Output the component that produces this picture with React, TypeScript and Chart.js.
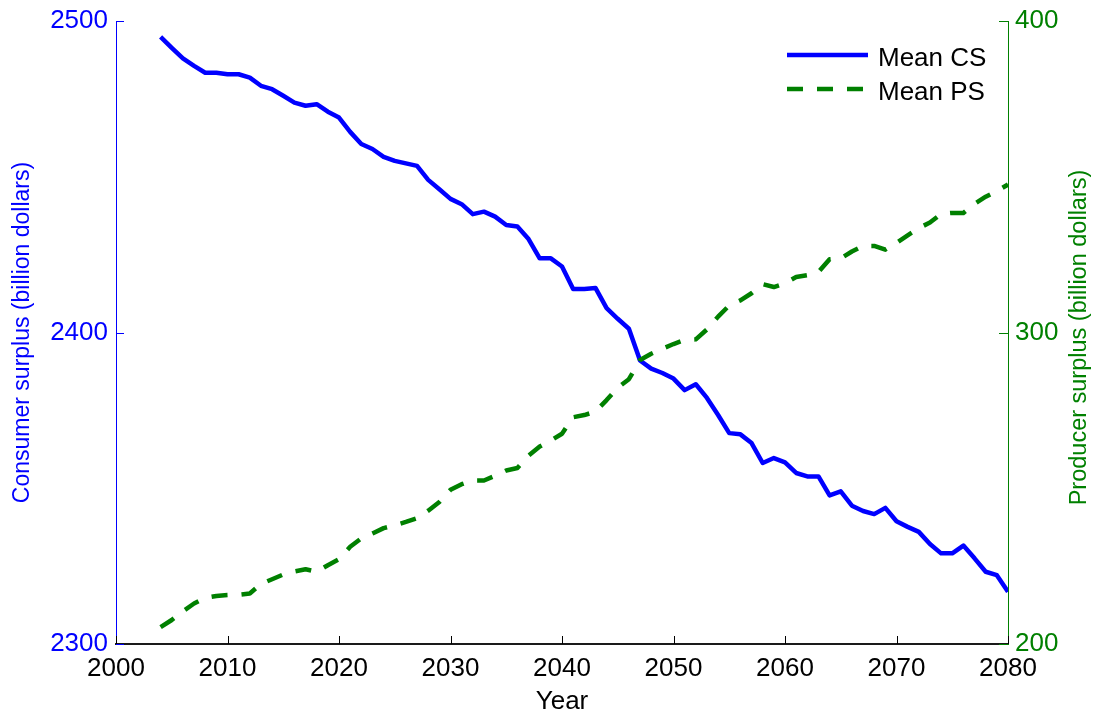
import React, { useEffect, useRef } from "react";
import { Chart, registerables } from "chart.js";

Chart.register(...registerables);

// Simulation years (annual steps)
const YEARS = [
  2004, 2005, 2006, 2007, 2008, 2009, 2010, 2011, 2012, 2013, 2014, 2015, 2016,
  2017, 2018, 2019, 2020, 2021, 2022, 2023, 2024, 2025, 2026, 2027, 2028, 2029,
  2030, 2031, 2032, 2033, 2034, 2035, 2036, 2037, 2038, 2039, 2040, 2041, 2042,
  2043, 2044, 2045, 2046, 2047, 2048, 2049, 2050, 2051, 2052, 2053, 2054, 2055,
  2056, 2057, 2058, 2059, 2060, 2061, 2062, 2063, 2064, 2065, 2066, 2067, 2068,
  2069, 2070, 2071, 2072, 2073, 2074, 2075, 2076, 2077, 2078, 2079, 2080,
];

// Mean consumer surplus (billion dollars)
const MEAN_CS = [
  2494.9, 2491.4, 2488.0, 2485.6, 2483.4, 2483.4, 2482.9, 2482.9, 2481.8, 2479.2,
  2478.1, 2476.0, 2473.8, 2472.8, 2473.3, 2470.9, 2469.0, 2464.4, 2460.5, 2458.9,
  2456.4, 2455.1, 2454.3, 2453.5, 2449.0, 2446.0, 2442.9, 2441.2, 2438.0, 2438.8,
  2437.2, 2434.5, 2434.0, 2430.0, 2423.8, 2423.8, 2421.2, 2414.0, 2414.0, 2414.3,
  2407.8, 2404.4, 2401.2, 2391.0, 2388.4, 2387.0, 2385.2, 2381.5, 2383.4, 2379.0,
  2373.5, 2367.7, 2367.3, 2364.5, 2358.1, 2359.7, 2358.3, 2354.9, 2353.8, 2353.8,
  2347.7, 2349.0, 2344.4, 2342.7, 2341.7, 2343.7, 2339.4, 2337.6, 2336.0, 2332.1,
  2329.1, 2329.1, 2331.6, 2327.5, 2323.2, 2322.1, 2316.8,
];

// Mean producer surplus (billion dollars)
const MEAN_PS = [
  205.4, 207.7, 210.5, 213.0, 214.8, 215.4, 215.7, 215.8, 216.2, 219.3,
  220.8, 222.3, 223.3, 224.0, 223.2, 225.3, 227.2, 231.2, 233.9, 235.5,
  237.2, 238.1, 239.2, 240.4, 242.8, 245.6, 249.5, 251.3, 252.5, 252.5,
  254.0, 255.7, 256.5, 260.5, 263.4, 265.3, 267.5, 272.8, 273.5, 274.6,
  278.3, 282.3, 285.0, 291.2, 293.2, 294.8, 296.3, 297.6, 297.8, 301.0,
  305.1, 308.7, 310.3, 312.6, 315.5, 314.6, 315.8, 317.8, 318.4, 319.4,
  323.5, 323.8, 326.0, 327.8, 327.8, 326.6, 328.8, 331.2, 333.5, 335.3,
  338.1, 338.4, 338.4, 341.3, 343.6, 345.4, 347.5,
];

const X_TICKS = [2000, 2010, 2020, 2030, 2040, 2050, 2060, 2070, 2080];
const CS_TICKS = [2300, 2400, 2500];
const PS_TICKS = [200, 300, 400];

const CS_TITLE = "Consumer surplus (billion dollars)";
const PS_TITLE = "Producer surplus (billion dollars)";

const FONT = "'Liberation Sans', Arial, Helvetica, sans-serif";
const BLUE = "#0000ff";
const GREEN = "#008000";
const INK = "#000000";

const WIDTH = 1098;
const HEIGHT = 719;

// Short tick marks pointing into the plot area, one set per axis
const innerTicks = {
  id: "innerTicks",
  afterDatasetsDraw(chart: any) {
    const { ctx, chartArea: a, scales } = chart;
    const len = 8;
    ctx.save();
    ctx.lineWidth = 1;
    ctx.setLineDash([]);

    ctx.strokeStyle = INK;
    for (const v of X_TICKS) {
      const px = Math.round(scales.x.getPixelForValue(v)) + 0.5;
      ctx.beginPath();
      ctx.moveTo(px, a.bottom);
      ctx.lineTo(px, a.bottom - len);
      ctx.stroke();
    }

    ctx.strokeStyle = BLUE;
    for (const v of CS_TICKS) {
      const py = Math.round(scales.y.getPixelForValue(v)) + 0.5;
      ctx.beginPath();
      ctx.moveTo(a.left, py);
      ctx.lineTo(a.left + len, py);
      ctx.stroke();
    }

    ctx.strokeStyle = GREEN;
    for (const v of PS_TICKS) {
      const py = Math.round(scales.y1.getPixelForValue(v)) + 0.5;
      ctx.beginPath();
      ctx.moveTo(a.right, py);
      ctx.lineTo(a.right - len - 1, py);
      ctx.stroke();
    }
    ctx.restore();
  },
};

// Right-hand axis title, reading bottom-to-top like the left one
const rightTitle = {
  id: "rightTitle",
  afterDraw(chart: any) {
    const { ctx, chartArea: a } = chart;
    ctx.save();
    ctx.translate(1080, (a.top + a.bottom) / 2 + 5);
    ctx.rotate(-Math.PI / 2);
    ctx.fillStyle = GREEN;
    ctx.font = `23.5px ${FONT}`;
    ctx.textAlign = "center";
    ctx.textBaseline = "middle";
    ctx.fillText(PS_TITLE, 0, 0);
    ctx.restore();
  },
};

// Frameless legend with line samples in the upper right corner
const lineLegend = {
  id: "lineLegend",
  afterDraw(chart: any) {
    const { ctx } = chart;
    const x0 = 787;
    const sample = 81;
    const rows = [55, 89];
    ctx.save();
    chart.data.datasets.forEach((ds: any, i: number) => {
      const y = rows[i];
      ctx.strokeStyle = ds.borderColor;
      ctx.lineWidth = ds.borderWidth;
      ctx.lineCap = "butt";
      ctx.setLineDash(ds.borderDash || []);
      ctx.beginPath();
      ctx.moveTo(x0, y);
      ctx.lineTo(x0 + sample, y);
      ctx.stroke();
      ctx.setLineDash([]);
      ctx.fillStyle = INK;
      ctx.font = `26px ${FONT}`;
      ctx.textAlign = "left";
      ctx.textBaseline = "alphabetic";
      ctx.fillText(ds.label, x0 + sample + 10, y + 11);
    });
    ctx.restore();
  },
};

export default function App() {
  const canvasRef = useRef<HTMLCanvasElement | null>(null);

  useEffect(() => {
    const canvas = canvasRef.current;
    if (!canvas) return;

    const chart = new Chart(canvas, {
      type: "line",
      data: {
        datasets: [
          {
            label: "Mean CS",
            data: YEARS.map((x, i) => ({ x, y: MEAN_CS[i] })),
            yAxisID: "y",
            borderColor: BLUE,
            backgroundColor: BLUE,
            borderWidth: 4.5,
            borderJoinStyle: "round",
            pointRadius: 0,
            tension: 0,
            fill: false,
            order: 1,
          },
          {
            label: "Mean PS",
            data: YEARS.map((x, i) => ({ x, y: MEAN_PS[i] })),
            yAxisID: "y1",
            borderColor: GREEN,
            backgroundColor: GREEN,
            borderWidth: 4.5,
            borderDash: [16, 14],
            borderJoinStyle: "round",
            pointRadius: 0,
            tension: 0,
            fill: false,
            order: 0,
          },
        ],
      },
      options: {
        responsive: false,
        animation: false,
        devicePixelRatio: 1,
        layout: { padding: { top: 20, left: 0, right: 0, bottom: 0 } },
        plugins: {
          legend: { display: false },
          tooltip: { enabled: false },
        },
        scales: {
          x: {
            type: "linear",
            position: "bottom",
            min: 2000,
            max: 2080,
            afterBuildTicks: (s: any) => {
              s.ticks = X_TICKS.map((value) => ({ value }));
            },
            afterFit: (s: any) => {
              s.height = 75;
            },
            grid: { display: false, drawTicks: false },
            border: { display: true, color: "#1a1a1a", width: 2 },
            ticks: {
              color: INK,
              font: { family: FONT, size: 26 },
              padding: 9,
              maxRotation: 0,
              autoSkip: false,
              callback: (v: any) => String(v),
            },
            title: {
              display: true,
              text: "Year",
              color: INK,
              font: { family: FONT, size: 26 },
              padding: { top: 0, bottom: 2 },
            },
          },
          y: {
            type: "linear",
            position: "left",
            min: 2300,
            max: 2500,
            afterBuildTicks: (s: any) => {
              s.ticks = CS_TICKS.map((value) => ({ value }));
            },
            afterFit: (s: any) => {
              s.width = 116;
            },
            grid: { display: false, drawTicks: false },
            border: { display: true, color: BLUE, width: 1 },
            ticks: {
              color: BLUE,
              font: { family: FONT, size: 26, lineHeight: 1 },
              padding: 8,
              callback: (v: any) => String(v),
            },
            title: {
              display: true,
              text: CS_TITLE,
              color: BLUE,
              font: { family: FONT, size: 23 },
              padding: { top: 9, bottom: 0 },
            },
          },
          y1: {
            type: "linear",
            position: "right",
            min: 200,
            max: 400,
            afterBuildTicks: (s: any) => {
              s.ticks = PS_TICKS.map((value) => ({ value }));
            },
            afterFit: (s: any) => {
              s.width = 90;
            },
            grid: { display: false, drawTicks: false },
            border: { display: true, color: GREEN, width: 1 },
            ticks: {
              color: GREEN,
              font: { family: FONT, size: 26, lineHeight: 1 },
              padding: 7,
              callback: (v: any) => String(v),
            },
          },
        },
      } as any,
      plugins: [innerTicks, rightTitle, lineLegend],
    });

    return () => chart.destroy();
  }, []);

  return (
    <div
      style={{
        position: "absolute",
        left: 0,
        top: 0,
        width: WIDTH,
        height: HEIGHT,
        background: "#ffffff",
      }}
    >
      <canvas ref={canvasRef} width={WIDTH} height={HEIGHT} />
    </div>
  );
}
